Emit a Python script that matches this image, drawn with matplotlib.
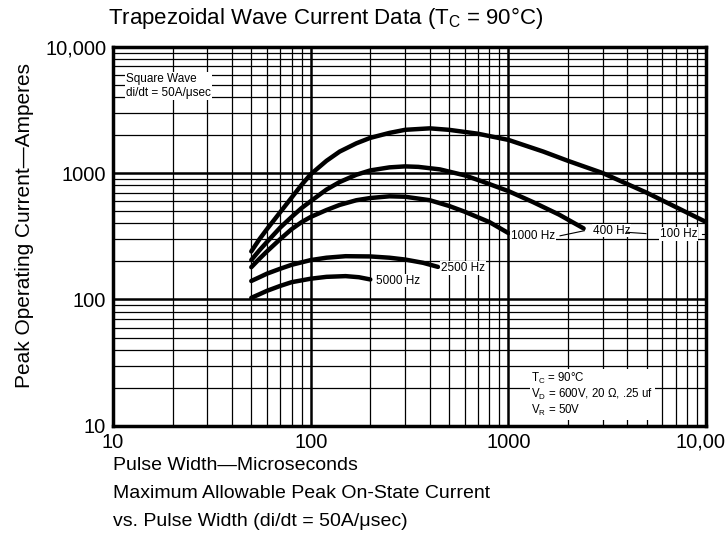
import numpy as np
import matplotlib.pyplot as plt
from matplotlib.ticker import FixedLocator, NullFormatter

plt.rcParams['font.family'] = ['Liberation Sans', 'DejaVu Sans']

# Curve data (pulse width in microseconds, current in amperes)
x_100 = [50, 55, 60, 70, 80, 90, 100, 120, 140, 170, 200, 250, 300, 400, 500,
         700, 1000, 1500, 2000, 3000, 5000, 7000, 10000]
y_100 = [240, 300, 360, 490, 640, 810, 980, 1250, 1480, 1720, 1900, 2080, 2200, 2260, 2200,
         2050, 1830, 1480, 1250, 1000, 700, 540, 410]

x_400 = [50, 55, 60, 70, 80, 90, 100, 120, 140, 170, 200, 250, 300, 350, 450,
         600, 750, 1000, 1330, 1800, 2400]
y_400 = [205, 245, 285, 370, 450, 530, 600, 740, 850, 970, 1050, 1110, 1130, 1120, 1070,
         960, 850, 720, 590, 470, 365]

x_1000 = [50, 55, 60, 70, 80, 90, 100, 120, 140, 170, 200, 250, 300, 400, 500, 600, 800, 1000]
y_1000 = [180, 210, 240, 300, 360, 410, 450, 510, 560, 610, 635, 655, 650, 610, 550, 495, 410, 335]

x_2500 = [50, 55, 60, 70, 80, 100, 120, 150, 200, 250, 300, 370, 440]
y_2500 = [140, 150, 160, 175, 188, 205, 214, 220, 219, 214, 207, 195, 181]

x_5000 = [50, 55, 60, 70, 80, 100, 120, 150, 175, 200]
y_5000 = [103, 110, 117, 128, 137, 146, 151, 153, 150, 144]

x_ticks = [10, 100, 1000, 10000]
x_tick_labels = ['10', '100', '1000', '10,000']
y_ticks = [10, 100, 1000, 10000]
y_tick_labels = ['10', '100', '1000', '10,000']

fig = plt.figure(figsize=(7.25, 5.37), dpi=100)
ax = fig.add_axes([0.156, 0.207, 0.818, 0.706])

ax.set_xscale('log')
ax.set_yscale('log')
ax.set_xlim(10, 10000)
ax.set_ylim(10, 10000)

# grid: heavy decade lines, thin lines at 2..9
minor = [m * 10 ** d for d in range(1, 4) for m in range(2, 10)]
ax.xaxis.set_minor_locator(FixedLocator(minor))
ax.yaxis.set_minor_locator(FixedLocator(minor))
ax.xaxis.set_minor_formatter(NullFormatter())
ax.yaxis.set_minor_formatter(NullFormatter())
ax.grid(which='major', color='black', lw=1.8)
ax.grid(which='minor', color='black', lw=0.9)

ax.set_xticks(x_ticks)
ax.set_xticklabels(x_tick_labels)
ax.set_yticks(y_ticks)
ax.set_yticklabels(y_tick_labels)
ax.tick_params(which='both', length=0, labelsize=14.5, pad=5)

for s in ax.spines.values():
    s.set_linewidth(2.5)

# curves
for xs, ys in [(x_100, y_100), (x_400, y_400), (x_1000, y_1000),
               (x_2500, y_2500), (x_5000, y_5000)]:
    ax.plot(xs, ys, color='black', lw=3.2, solid_capstyle='round',
            solid_joinstyle='round', zorder=5)

lab = dict(fontsize=8.5, va='center', ha='left', zorder=6,
           bbox=dict(facecolor='white', edgecolor='none', pad=0.5))
ax.text(214, 141, '5000 Hz', **lab)
ax.text(455, 178, '2500 Hz', **lab)
ax.text(1030, 319, '1000 Hz', **lab)
ax.text(2680, 350, '400 Hz', **lab)
ax.text(5850, 330, '100 Hz', **lab)
# leader lines
ax.plot([1825, 2420], [319, 350], color='black', lw=0.8, zorder=6)
ax.plot([3970, 4960], [340, 332], color='black', lw=0.8, zorder=6)
ax.plot([9500, 9950], [330, 330], color='black', lw=0.8, zorder=6)

# boxes
ax.text(0.022, 0.93, 'Square Wave\ndi/dt = 50A/\u03bcsec', transform=ax.transAxes,
        fontsize=8.5, va='top', ha='left', linespacing=1.2, zorder=6,
        bbox=dict(facecolor='white', edgecolor='none', pad=1))
ax.text(0.705, 0.145,
        'T$_\\mathregular{C}$ = 90\u00b0C\nV$_\\mathregular{D}$ = 600V, 20 \u03a9, .25 uf\nV$_\\mathregular{R}$ = 50V',
        transform=ax.transAxes, fontsize=8.3, va='top', ha='left', linespacing=1.1,
        zorder=6, bbox=dict(facecolor='white', edgecolor='none', pad=1))

# titles and labels
fig.text(108 / 725, 1 - 18 / 537, 'Trapezoidal Wave Current Data (T$_\\mathregular{C}$ = 90\u00b0C)',
         fontsize=16, ha='left', va='center')
fig.text(25 / 725, 1 - 226 / 537, 'Peak Operating Current\u2014Amperes',
         fontsize=15, rotation=90, ha='center', va='center')
fig.text(113 / 725, 1 - 466 / 537, 'Pulse Width\u2014Microseconds', fontsize=14, ha='left', va='center')
fig.text(113 / 725, 1 - 494 / 537, 'Maximum Allowable Peak On-State Current', fontsize=14, ha='left', va='center')
fig.text(113 / 725, 1 - 521 / 537, 'vs. Pulse Width (di/dt = 50A/\u03bcsec)', fontsize=14, ha='left', va='center')

fig.savefig('out.png', dpi=100)
